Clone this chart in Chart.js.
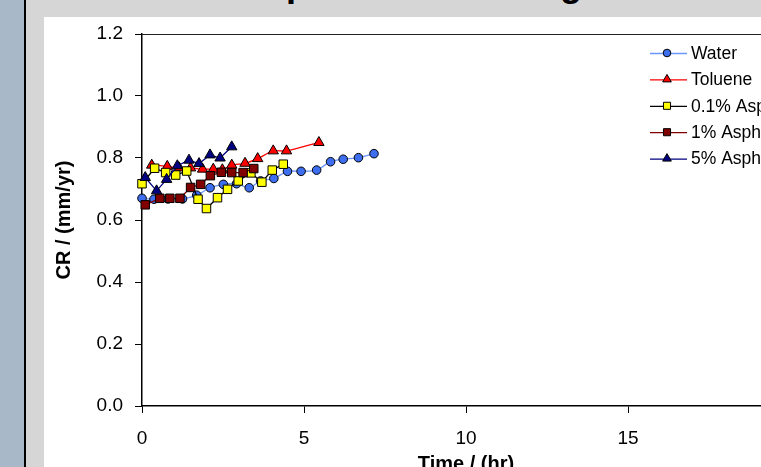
<!DOCTYPE html>
<html>
<head>
<meta charset="utf-8">
<script src="https://cdn.jsdelivr.net/npm/chart.js@4/dist/chart.umd.min.js"></script>
<style>
  html, body { margin: 0; padding: 0; width: 761px; height: 467px; overflow: hidden; background: #a8b8c8; }
  #edge { position: absolute; left: 24px; top: 0; width: 2px; height: 467px; background: #000; }
  #frame { position: absolute; left: 26px; top: 0; width: 900px; height: 600px; background: #d6d6d6; overflow: hidden; }
  #title { position: absolute; top: -34px; left: 0; white-space: nowrap; font: bold 36px Arial, "Liberation Sans", sans-serif; line-height: 36px; color: #000; }
  #sheet { position: absolute; left: 44px; top: 17px; width: 820px; height: 470px; background: #fff; }
</style>
</head>
<body>
<div id="edge"></div>
<div id="frame"><div id="title">Corrosion Rate Com<span id="pmark">p</span>arison at 25 deg C</div></div>
<div id="sheet"><canvas id="cr-chart" width="820" height="470"></canvas></div>
<script>
// === DATA ===
const seriesNames = ['Water', 'Toluene', '0.1% Asphaltene', '1% Asphaltene', '5% Asphaltene'];

const waterTime = [0, 0.37, 0.8, 1.25, 1.69, 2.1, 2.51, 2.92, 3.31, 3.66, 4.07, 4.49, 4.91, 5.39, 5.82, 6.21, 6.68, 7.16];
const waterCR   = [0.670, 0.667, 0.668, 0.668, 0.680, 0.704, 0.715, 0.717, 0.704, 0.726, 0.734, 0.757, 0.757, 0.761, 0.788, 0.796, 0.801, 0.814];

const tolueneTime = [0.3, 0.78, 1.15, 1.5, 1.87, 2.2, 2.48, 2.77, 3.18, 3.57, 4.05, 4.46, 5.46];
const tolueneCR   = [0.777, 0.773, 0.768, 0.768, 0.764, 0.764, 0.762, 0.777, 0.783, 0.798, 0.823, 0.823, 0.850];

const asph01Time = [0, 0.39, 0.73, 1.04, 1.38, 1.73, 1.99, 2.33, 2.64, 2.97, 3.36, 3.7, 4.02, 4.36];
const asph01CR   = [0.717, 0.767, 0.753, 0.745, 0.758, 0.667, 0.637, 0.672, 0.699, 0.726, 0.752, 0.722, 0.761, 0.780];

const asph1Time = [0.1, 0.55, 0.86, 1.17, 1.5, 1.81, 2.11, 2.45, 2.77, 3.12, 3.45];
const asph1CR   = [0.649, 0.670, 0.670, 0.670, 0.705, 0.715, 0.743, 0.754, 0.753, 0.753, 0.766];

const asph5Time = [0.1, 0.45, 0.76, 1.09, 1.45, 1.76, 2.1, 2.41, 2.77];
const asph5CR   = [0.737, 0.694, 0.731, 0.775, 0.793, 0.782, 0.810, 0.800, 0.836];

const xTicks = [0, 5, 10, 15, 20];
const yTicks = [0.0, 0.2, 0.4, 0.6, 0.8, 1.0, 1.2];

// line the cut-off title up so the "p" sits where it does in the picture
const titleEl = document.getElementById('title');
const pBox = document.getElementById('pmark').getBoundingClientRect();
titleEl.style.left = (297 - (pBox.left + pBox.width / 2)) + 'px';

Chart.defaults.font.family = 'Arial, "Liberation Sans", sans-serif';
Chart.defaults.color = '#000';

const pts = (xs, ys) => xs.map((x, i) => ({ x: x, y: ys[i] }));

function series(label, xs, ys, line, fill, style, radius, order, tension) {
    return {
        label: label,
        data: pts(xs, ys),
        borderColor: line,
        borderWidth: 1.3,
        backgroundColor: fill,
        pointBackgroundColor: fill,
        pointBorderColor: '#000',
        pointBorderWidth: 1,
        pointStyle: style,
        pointRadius: radius,
        pointHoverRadius: radius,
        tension: tension,
        clip: false,
        order: order
    };
}

const plotBorder = {
    id: 'plotBorder',
    afterDraw(chart) {
        const a = chart.chartArea, ctx = chart.ctx;
        ctx.save();
        ctx.strokeStyle = '#222';
        ctx.lineWidth = 1;
        ctx.beginPath();
        ctx.moveTo(a.left, a.top + 0.5);
        ctx.lineTo(a.right, a.top + 0.5);
        ctx.lineTo(a.right, a.bottom);
        ctx.stroke();
        ctx.restore();
    }
};

// Excel-style legend sitting inside the plot, top right
const sideLegend = {
    id: 'sideLegend',
    afterDraw(chart) {
        const ctx = chart.ctx;
        ctx.save();
        ctx.font = '17.5px Arial, "Liberation Sans", sans-serif';
        ctx.textBaseline = 'middle';
        ctx.textAlign = 'left';
        chart.data.datasets.forEach((ds, i) => {
            const y = 36 + i * 26.4;
            ctx.strokeStyle = ds.borderColor;
            ctx.lineWidth = 1.3;
            ctx.beginPath();
            ctx.moveTo(606, y + 0.5);
            ctx.lineTo(643, y + 0.5);
            ctx.stroke();
            ctx.fillStyle = ds.pointBackgroundColor;
            ctx.strokeStyle = '#000';
            ctx.lineWidth = 1;
            Chart.helpers.drawPoint(ctx, {
                pointStyle: ds.pointStyle,
                radius: ds.pointStyle === 'circle' ? 3.8 : 5,
                rotation: 0,
                borderWidth: 1
            }, 623, y);
            ctx.fillStyle = '#000';
            ctx.fillText(ds.label, 647, y + 1);
        });
        ctx.restore();
    }
};

const ctx = document.getElementById('cr-chart').getContext('2d');
const crChart = new Chart(ctx, {
    type: 'line',
    data: {
        datasets: [
            series(seriesNames[0], waterTime, waterCR, '#6b96ff', '#3d6ef0', 'circle', 4.3, 5, 0.25),
            series(seriesNames[1], tolueneTime, tolueneCR, '#ff0000', '#ff0000', 'triangle', 6, 4, 0.25),
            series(seriesNames[2], asph01Time, asph01CR, '#000000', '#ffff00', 'rect', 6, 3, 0),
            series(seriesNames[3], asph1Time, asph1CR, '#800000', '#800000', 'rect', 6, 2, 0),
            series(seriesNames[4], asph5Time, asph5CR, '#000080', '#000080', 'triangle', 6, 1, 0)
        ]
    },
    options: {
        responsive: false,
        animation: false,
        events: [],
        layout: { padding: { top: 17, right: 74, left: 0, bottom: 0 } },
        plugins: { legend: { display: false }, title: { display: false }, tooltip: { enabled: false } },
        scales: {
            x: {
                type: 'linear',
                min: 0, max: 20,
                afterFit(scale) { scale.height = 81; scale.paddingLeft = 0; scale.paddingRight = 0; },
                afterBuildTicks(scale) { scale.ticks = xTicks.map(v => ({ value: v })); },
                grid: { drawOnChartArea: false, drawTicks: true, tickLength: 7, tickColor: '#000', tickWidth: 1 },
                border: { display: true, color: '#000', width: 1.5 },
                ticks: { padding: 14, maxRotation: 0, font: { size: 19 }, color: '#000', callback: v => String(v) },
                title: { display: true, text: 'Time / (hr)', font: { size: 20, weight: 'bold' }, padding: { top: 0, bottom: 11 }, color: '#000' }
            },
            y: {
                type: 'linear',
                min: 0, max: 1.2,
                afterFit(scale) { scale.width = 98; scale.paddingTop = 0; scale.paddingBottom = 0; },
                afterBuildTicks(scale) { scale.ticks = yTicks.map(v => ({ value: v })); },
                grid: { drawOnChartArea: false, drawTicks: true, tickLength: 7, tickColor: '#000', tickWidth: 1 },
                border: { display: true, color: '#000', width: 1.5 },
                ticks: { padding: 12, font: { size: 19 }, color: '#000', callback: v => v.toFixed(1) },
                title: { display: true, text: 'CR / (mm/yr)', font: { size: 20, weight: 'bold' }, padding: { top: 8, bottom: 0 }, color: '#000' }
            }
        }
    },
    plugins: [plotBorder, sideLegend]
});
</script>
</body>
</html>
